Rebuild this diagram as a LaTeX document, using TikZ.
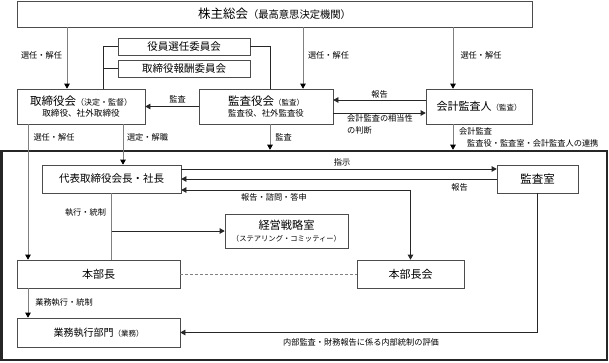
\documentclass[tikz,border=0pt]{standalone}
\usepackage{fontspec}
\setmainfont{Noto Sans CJK JP}
\usetikzlibrary{arrows.meta}
\newcommand{\fs}[1]{\fontsize{#1}{#1}\selectfont}
\begin{document}
\begin{tikzpicture}[x=1pt,y=-1pt,
 box/.style={draw=black!70, line width=0.6pt, fill=white, inner sep=0pt, align=center, font=\fs{10.5}},
 lbl/.style={font=\fontsize{8.2}{12}\selectfont, inner sep=0pt},
 ln/.style={line width=0.6pt, draw=black!85},
 gln/.style={line width=0.7pt, draw=black!50},
 tip/.tip={Triangle[width=5.5pt,length=5pt]},
 arr/.style={ln, -tip},
 garr/.style={gln, -{Triangle[width=5.5pt,length=5pt,fill=black,color=black]}},
 darr/.style={ln, tip-tip}
]
\useasboundingbox (0,0) rectangle (609,363);
% frame
\node[draw=black!85, line width=2.5pt, minimum width=605.5pt, minimum height=209pt, inner sep=0pt] (frame) at (304.25,255.5) {};
% boxes
\node[box, minimum width=515pt, minimum height=26pt] (top) at (274.5,14) {{\fs{12.5}株主総会}{\fs{10.3}（最高意思決定機関）}};
\node[box, minimum width=132pt, minimum height=17pt] (yakuin) at (184,46.5) {役員選任委員会};
\node[box, minimum width=132pt, minimum height=17pt] (hoshu) at (184,68.5) {取締役報酬委員会};
\node[box, minimum width=128pt, minimum height=35pt] (tori) at (81,106.5) {{\fs{11.5}取締役会}{\fs{8}（決定・監督）}\\[1pt]{\fs{8.6}取締役、社外取締役}};
\node[box, minimum width=134pt, minimum height=35pt] (kansa) at (266,106.5) {{\fs{11.5}監査役会}{\fs{7.5}（監査）}\\[1pt]{\fs{8.4}監査役、社外監査役}};
\node[box, minimum width=106pt, minimum height=35pt] (kaikei) at (479,106.5) {{\fs{11}会計監査人}{\fs{7.5}（監査）}};
\node[box, minimum width=139pt, minimum height=28pt] (daihyo) at (111.5,179) {代表取締役会長・社長};
\node[box, minimum width=81pt, minimum height=28pt, font=\fs{11.5}] (shitsu) at (537.5,179) {監査室};
\node[box, minimum width=123pt, minimum height=34pt] (keiei) at (286.5,231) {{\fs{11.2}経営戦略室}\\[1.5pt]{\fs{7.3}（ステアリング・コミッティー）}};
\node[box, minimum width=163pt, minimum height=28pt, font=\fs{11}] (honbu) at (98.5,274) {本部長};
\node[box, minimum width=107pt, minimum height=28pt, font=\fs{11}] (honbukai) at (410.5,274) {本部長会};
\node[box, minimum width=163pt, minimum height=29pt] (gyomu) at (98.5,332.5) {{\fs{10}業務執行部門}{\fs{7.5}（業務）}};
% helper coordinates
\coordinate (c28) at (28,0);
\coordinate (c67) at (67,0);
\coordinate (c103) at (103,0);
\coordinate (c123) at (123,0);
\coordinate (c270) at (270,0);
\coordinate (c303) at (303,0);
\coordinate (c453) at (453,0);
\coordinate (r100) at (0,100);
\coordinate (r113) at (0,113);
\coordinate (r169) at (0,169);
\coordinate (r179) at (0,179);
\coordinate (r190) at (0,190);
% top level arrows
\draw[garr] (top.south -| c67) -- (tori.north -| c67);
\draw[garr] (top.south -| c303) -- (kansa.north -| c303);
\draw[garr] (top.south -| c453) -- (kaikei.north -| c453);
\node[lbl] at (41.5,55) {選任・解任};
\node[lbl] at (328.5,55) {選任・解任};
\node[lbl] at (481,55) {選任・解任};
% committees
\draw[ln] (yakuin.west) -| (tori.north -| c103);
\draw[ln] (hoshu.west) -- (hoshu.west -| c103);
\draw[ln] (yakuin.east) -| (kansa.north -| c270);
% audit arrows
\draw[arr] (kansa.west) -- (tori.east);
\node[lbl] at (177.5,99) {監査};
\draw[arr] (kaikei.west |- r100) -- (kansa.east |- r100);
\node[lbl] at (379.5,94) {報告};
\draw[arr] (kansa.east |- r113) -- (kaikei.west |- r113);
\node[lbl, anchor=west, align=left] at (347,124.5) {会計監査の相当性\\の判断};
% down from board
\draw[garr] (tori.south -| c28) -- (honbu.north -| c28);
\node[lbl] at (54,137) {選任・解任};
\draw[garr] (tori.south -| c123) -- (daihyo.north -| c123);
\node[lbl] at (147.5,137) {選定・解職};
\draw[garr] (kansa.south -| c270) -- (frame.north -| c270);
\node[lbl] at (283.5,137) {監査};
\draw[garr] (kaikei.south -| c453) -- (frame.north -| c453);
\node[lbl, anchor=west] at (459,131) {会計監査};
\node[lbl, anchor=west] at (467,143) {監査役・監査室・会計監査人の連携};
% inside frame
\draw[arr] (daihyo.east |- r169) -- (shitsu.west |- r169);
\node[lbl] at (342,162) {指示};
\draw[arr] (shitsu.west |- r179) -- (daihyo.east |- r179);
\node[lbl] at (459.5,187) {報告};
\draw[darr] (honbukai.north) |- (daihyo.east |- r190);
\node[lbl] at (274,197) {報告・諮問・答申};
\draw[gln] (daihyo.south) -- (honbu.north -| daihyo.south);
\draw[arr] (daihyo.south |- keiei.west) -- (keiei.west);
\node[lbl] at (85.5,212) {執行・統制};
\draw[gln, dashed, dash pattern=on 3pt off 2pt] (honbu.east) -- (honbukai.west);
\draw[garr] (honbu.south -| c28) -- (gyomu.north -| c28);
\node[lbl] at (64,302) {業務執行・統制};
\draw[arr] (shitsu.south) |- (gyomu.east);
\node[lbl] at (361,342) {内部監査・財務報告に係る内部統制の評価};
\end{tikzpicture}
\end{document}
